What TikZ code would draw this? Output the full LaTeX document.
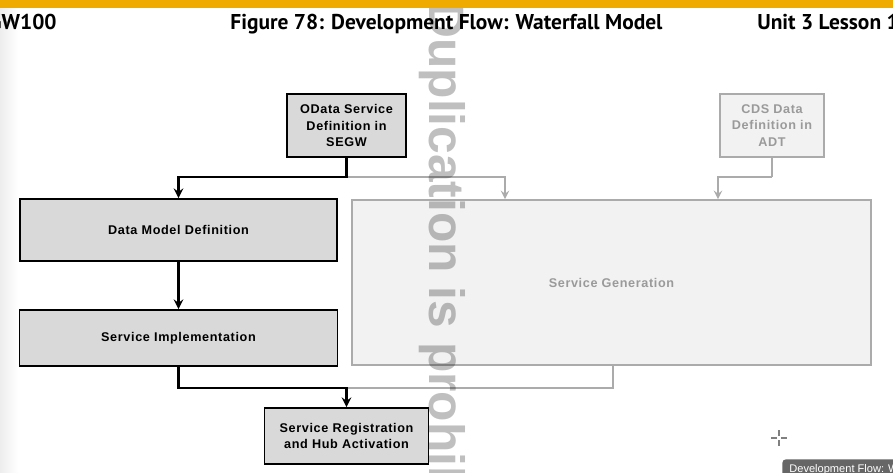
\documentclass[tikz,border=0pt]{standalone}
\usepackage{fontspec}
\setmainfont{Liberation Sans}
\newfontfamily\boxfont[LetterSpace=5]{Liberation Sans}
\newfontfamily\headfont{PT Sans}
\definecolor{sapgold}{HTML}{F0AB00}
\definecolor{boxgray}{HTML}{D9D9D9}
\definecolor{palegray}{HTML}{F2F2F2}
\definecolor{linegray}{HTML}{ABABAB}
\definecolor{textgray}{HTML}{9A9A9A}
\definecolor{tipgray}{HTML}{666666}
\tikzset{
  boxdark/.style={draw=black, fill=boxgray, line width=1.1pt, inner sep=0pt,
    align=center, font=\boxfont\bfseries\fontsize{7.2}{9.6}\selectfont},
  boxlight/.style={draw=linegray, fill=palegray, line width=1.1pt, inner sep=0pt,
    align=center, text=textgray, font=\boxfont\bfseries\fontsize{7.2}{9.6}\selectfont},
  flowarrow/.style={line width=1.4pt, >=stealth},
  grayarrow/.style={draw=linegray, line width=1.1pt, >=stealth},
  headtext/.style={inner sep=0pt, font=\headfont\bfseries\fontsize{12.2}{14}\selectfont}
}
\begin{document}
\begin{tikzpicture}[x=0.02cm, y=-0.02cm]
  \useasboundingbox (0,0) rectangle (893,473);
  % slide background, slightly darker at the left edge
  \shade[left color=black!7, right color=white] (0,0) rectangle (18,473);

  %%%%%%%%%%%%%%%%%%%%%%%%%%%%%%%%%%%%%%%%%%%%%%
  %%% Boxes of the waterfall
  %%%%%%%%%%%%%%%%%%%%%%%%%%%%%%%%%%%%%%%%%%%%%%
  \node[boxdark, minimum width=2.38cm, minimum height=1.26cm] (odata) at (346.5,125.5)
       {OData Service\\Definition in\\SEGW};
  \node[boxlight, minimum width=2.08cm, minimum height=1.26cm] (cds) at (772,125.5)
       {CDS Data\\Definition in\\ADT};
  \node[boxdark, minimum width=6.34cm, minimum height=1.24cm] (datamodel) at (178.5,230)
       {Data Model Definition};
  \node[boxlight, minimum width=10.38cm, minimum height=3.3cm] (servgen) at (611.5,282.5)
       {Service Generation};
  \node[boxdark, minimum width=6.36cm, minimum height=1.12cm] (servimpl) at (178.5,338)
       {Service Implementation};
  \node[boxdark, minimum width=3.28cm, minimum height=1.12cm] (servreg) at (346.5,436)
       {Service Registration\\and Hub Activation};

  % junctions of the connectors
  \coordinate (odjoin) at (odata.south |- 0,177);
  \coordinate (cdsjoin) at (cds.south |- 0,177);
  \coordinate (impljoin) at (servreg.north |- 0,388);

  % gray path: generated service
  \foreach \src/\xx in {odjoin/505, cdsjoin/718}
      \draw[grayarrow, ->] (\src) -| (servgen.north -| \xx,0);
  \draw[grayarrow] (cds.south) -- (cdsjoin);
  \draw[grayarrow] (servgen.south -| 613,0) |- (impljoin);

  % black path: implemented service
  \draw[flowarrow, ->] (odata.south) -- (odjoin) -| (datamodel.north);
  \draw[flowarrow, ->] (datamodel.south) -- (servimpl.north);
  \draw[flowarrow, ->] (servimpl.south) |- (impljoin) -- (servreg.north);

  %%%%%%%%%%%%%%%%%%%%%%%%%%%%%%%%%%%%%%%%%%%%%%
  %%% Watermark, header, cursor and tooltip
  %%%%%%%%%%%%%%%%%%%%%%%%%%%%%%%%%%%%%%%%%%%%%%
  \node[rotate=-90, anchor=base west, inner sep=0pt, text=black, text opacity=0.25,
        font=\bfseries\fontsize{28.3}{30}\selectfont] (mark) at (429,2) {Duplication is prohibited};

  \fill[sapgold] (0,0) rectangle (893,8);
  \node[headtext, anchor=base east] (course) at (57,30) {GW100};
  \node[headtext, anchor=base] (figtitle) at (446.5,30) {Figure 78: Development Flow: Waterfall Model};
  \node[headtext, anchor=base west] (unit) at (757,30) {Unit 3 Lesson 1};

  % cross-hair cursor
  \draw[gray, line width=0.6pt] (771,438) -- (777,438) (781,438) -- (787,438)
        (779,430) -- (779,436) (779,440) -- (779,446);
  \node[fill=tipgray, rounded corners=2pt, anchor=north west, inner xsep=4pt, inner ysep=3pt,
        text=white, font=\fontsize{6.3}{7}\selectfont] (tooltip) at (782,459)
       {Development Flow: Waterfall Model};
\end{tikzpicture}
\end{document}
